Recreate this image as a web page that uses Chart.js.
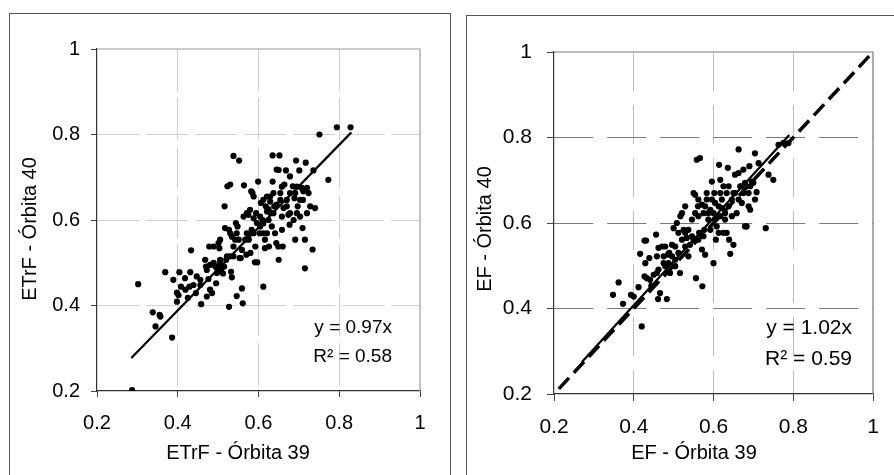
<!DOCTYPE html>
<html>
<head>
<meta charset="utf-8">
<script src="https://cdn.jsdelivr.net/npm/chart.js@4.4.0/dist/chart.umd.min.js"></script>
<style>
    body { margin: 0; background: #fff; width: 894px; height: 475px; overflow: hidden; position: relative; }
    .panel { position: absolute; border: 1px solid #555; box-sizing: border-box; }
    canvas { position: absolute; top: 0; }
</style>
</head>
<body>
<div class="panel" style="left:9px; top:13px; width:442px; height:480px;"></div>
<div class="panel" style="left:466px; top:15px; width:440px; height:480px;"></div>
<canvas id="leftChart" width="455" height="475" style="left:0"></canvas>
<canvas id="rightChart" width="439" height="475" style="left:455px"></canvas>
<script>
// eixos
const tickVals = [0.2, 0.4, 0.6, 0.8, 1];
const tickLabels = ['0.2', '0.4', '0.6', '0.8', '1'];

// ETrF - Órbita 39 (x) x Órbita 40 (y)
const etrfX = [0.287,0.302,0.338,0.345,0.355,0.357,0.369,0.386,0.389,0.398,0.402,0.404,0.408,0.418,0.433,0.431,0.429,0.439,0.425,0.445,
    0.456,0.458,0.468,0.47,0.476,0.478,0.48,0.485,0.489,0.493,0.495,0.489,0.501,0.505,0.503,0.507,0.512,0.516,0.517,0.52,
    0.522,0.523,0.53,0.527,0.527,0.53,0.534,0.532,0.534,0.538,0.544,0.548,0.546,0.552,0.553,0.556,0.559,0.561,0.564,0.567,
    0.57,0.571,0.575,0.576,0.58,0.582,0.585,0.588,0.591,0.594,0.597,0.599,0.603,0.606,0.61,0.612,0.612,0.616,0.618,0.621,
    0.625,0.626,0.63,0.633,0.635,0.635,0.652,0.639,0.644,0.645,0.65,0.65,0.654,0.658,0.66,0.664,0.668,0.67,0.674,0.677,
    0.685,0.689,0.691,0.693,0.697,0.701,0.709,0.711,0.715,0.715,0.717,0.72,0.724,0.734,0.736,0.74,0.751,0.773,0.794,0.828,
    0.579,0.588,0.596,0.604,0.612,0.621,0.629,0.637,0.645,0.658,0.662,0.67,0.678,0.687,0.703,0.707,0.472,0.48,0.497,0.505,
    0.538,0.542,0.551,0.559,0.575,0.583,0.592,0.612,0.616,0.625,0.629,0.641,0.649,0.654,0.678,0.691,0.695,0.703,0.711,0.72,
    0.728,0.505,0.515,0.53,0.538,0.546,0.563,0.571,0.588,0.604,0.621,0.637,0.658,0.678,0.695,0.71,0.497,0.456,0.447,0.419,
    0.398,0.472];
const etrfY = [0.202,0.45,0.384,0.351,0.378,0.374,0.478,0.325,0.46,0.43,0.424,0.478,0.444,0.464,0.529,0.478,0.444,0.448,0.418,0.429,
    0.448,0.403,0.507,0.491,0.462,0.538,0.437,0.429,0.5,0.491,0.452,0.538,0.546,0.554,0.534,0.483,0.475,0.632,0.581,0.507,
    0.515,0.679,0.683,0.397,0.577,0.569,0.561,0.479,0.466,0.75,0.593,0.585,0.422,0.739,0.511,0.511,0.44,0.405,0.681,0.554,
    0.519,0.616,0.612,0.554,0.523,0.667,0.663,0.569,0.501,0.616,0.501,0.69,0.569,0.64,0.6,0.444,0.592,0.554,0.632,0.62,
    0.625,0.538,0.616,0.585,0.69,0.751,0.751,0.632,0.546,0.718,0.717,0.507,0.647,0.577,0.538,0.683,0.716,0.632,0.612,0.589,
    0.679,0.651,0.554,0.739,0.632,0.716,0.581,0.667,0.554,0.487,0.734,0.675,0.663,0.531,0.716,0.628,0.8,0.694,0.817,0.817,
    0.624,0.604,0.593,0.585,0.647,0.655,0.643,0.616,0.636,0.608,0.628,0.647,0.616,0.6,0.608,0.675,0.483,0.495,0.487,0.507,
    0.515,0.554,0.554,0.53,0.565,0.577,0.538,0.569,0.534,0.6,0.655,0.569,0.538,0.663,0.663,0.663,0.616,0.647,0.671,0.616,
    0.632,0.499,0.491,0.515,0.538,0.569,0.608,0.569,0.655,0.608,0.569,0.663,0.678,0.702,0.678,0.647,0.476,0.46,0.468,0.437,
    0.409,0.421];
const etrfFit = [{x: 0.285, y: 0.277}, {x: 0.83, y: 0.805}];

// EF - Órbita 39 (x) x Órbita 40 (y)
const efX = [0.42,0.348,0.362,0.373,0.393,0.4,0.412,0.416,0.427,0.431,0.429,0.427,0.433,0.439,0.444,0.456,0.458,0.458,0.461,0.483,
    0.466,0.462,0.471,0.479,0.475,0.486,0.489,0.491,0.496,0.5,0.504,0.508,0.512,0.516,0.521,0.525,0.529,0.533,0.537,0.541,
    0.546,0.55,0.554,0.556,0.558,0.566,0.561,0.564,0.571,0.572,0.575,0.577,0.579,0.583,0.587,0.592,0.596,0.6,0.602,0.604,
    0.606,0.608,0.614,0.617,0.617,0.621,0.625,0.629,0.633,0.636,0.639,0.642,0.646,0.65,0.654,0.658,0.663,0.667,0.671,0.675,
    0.679,0.683,0.688,0.69,0.692,0.696,0.7,0.704,0.708,0.713,0.731,0.738,0.75,0.763,0.775,0.788,
    0.529,0.537,0.546,0.554,0.562,0.571,0.579,0.587,0.596,0.6,0.608,0.613,0.621,0.629,0.638,0.646,0.654,0.663,0.671,0.679,
    0.688,0.512,0.521,0.504,0.496,0.487,0.479,0.529,0.55,0.562,0.575,0.592,0.604,0.617,0.625,0.638,0.65,0.663,0.675,0.692,
    0.704,0.462,0.45,0.441,0.475,0.504,0.517,0.562,0.583,0.613,0.633];
const efY = [0.358,0.432,0.461,0.411,0.432,0.428,0.45,0.528,0.559,0.559,0.506,0.475,0.471,0.518,0.453,0.573,0.522,0.483,0.422,0.422,
    0.436,0.542,0.545,0.545,0.506,0.526,0.53,0.483,0.549,0.588,0.499,0.6,0.53,0.483,0.623,0.584,0.639,0.565,0.522,0.549,
    0.608,0.67,0.666,0.471,0.748,0.752,0.639,0.577,0.538,0.452,0.623,0.584,0.526,0.655,0.608,0.631,0.697,0.506,0.67,0.647,
    0.561,0.592,0.736,0.701,0.67,0.635,0.577,0.608,0.67,0.729,0.561,0.528,0.655,0.549,0.713,0.623,0.772,0.686,0.647,0.725,
    0.592,0.592,0.67,0.733,0.631,0.697,0.694,0.763,0.672,0.74,0.588,0.713,0.701,0.783,0.787,0.787,
    0.577,0.584,0.569,0.623,0.616,0.643,0.639,0.623,0.655,0.623,0.612,0.639,0.655,0.623,0.639,0.616,0.67,0.655,0.686,0.694,
    0.639,0.577,0.561,0.545,0.522,0.506,0.499,0.545,0.561,0.561,0.569,0.584,0.608,0.616,0.686,0.686,0.67,0.717,0.67,0.686,
    0.655,0.491,0.479,0.467,0.522,0.514,0.616,0.655,0.67,0.577,0.577];
const efFit = [{x: 0.27, y: 0.275}, {x: 0.79, y: 0.806}];
const oneToOne = [{x: 0.212, y: 0.212}, {x: 1, y: 1}];

function toPoints(xs, ys) {
    return xs.map((x, i) => ({x: x, y: ys[i]}));
}

function isEdge(v) {
    return Math.abs(v - 0.2) < 1e-6 || Math.abs(v - 1) < 1e-6;
}

// escala com ticks fixos e grade tracejada
function makeScale(opt) {
    return {
        type: 'linear',
        min: 0.2,
        max: 1,
        afterBuildTicks: (scale) => { scale.ticks = tickVals.map(v => ({value: v})); },
        afterFit: (scale) => {
            if (opt.width) scale.width = opt.width;
            if (opt.height) scale.height = opt.height;
        },
        ticks: {
            color: '#000',
            padding: opt.padding,
            font: {family: 'Liberation Sans, Arial', size: opt.size},
            callback: (v) => tickLabels[tickVals.findIndex(t => Math.abs(t - v) < 1e-6)]
        },
        grid: {
            color: (c) => (c.tick && isEdge(c.tick.value)) ? 'rgba(0,0,0,0)' : opt.gridColor,
            lineWidth: 1,
            tickColor: '#444',
            tickLength: opt.tickLength,
            tickBorderDash: []
        },
        border: {color: '#333', width: 1.2, dash: opt.dash}
    };
}

// moldura, títulos e equações
function decorPlugin(cfg) {
    return {
        id: 'decor',
        beforeDatasetsDraw(chart) {
            const a = chart.chartArea;
            const ctx = chart.ctx;
            ctx.save();
            ctx.strokeStyle = cfg.frameColor;
            ctx.lineWidth = 1.2;
            ctx.beginPath();
            ctx.moveTo(a.left, a.top);
            ctx.lineTo(a.right, a.top);
            ctx.lineTo(a.right, a.bottom);
            ctx.stroke();
            ctx.restore();
        },
        afterDraw(chart) {
            const ctx = chart.ctx;
            ctx.save();
            ctx.fillStyle = '#000';
            ctx.textAlign = 'center';
            ctx.textBaseline = 'middle';
            ctx.font = cfg.titleSize + 'px Liberation Sans, Arial';
            ctx.fillText(cfg.xTitle, cfg.xTitlePos[0], cfg.xTitlePos[1]);
            ctx.save();
            ctx.translate(cfg.yTitlePos[0], cfg.yTitlePos[1]);
            ctx.rotate(-Math.PI / 2);
            ctx.fillText(cfg.yTitle, 0, 0);
            ctx.restore();
            ctx.textAlign = 'right';
            ctx.font = cfg.eqSize + 'px Liberation Sans, Arial';
            ctx.fillText(cfg.eq[0], cfg.eqPos[0], cfg.eqPos[1]);
            ctx.fillText(cfg.eq[1], cfg.eqPos[0], cfg.eqPos[1] + cfg.eqGap);
            ctx.restore();
        }
    };
}

Chart.defaults.font.family = 'Liberation Sans, Arial';

// gráfico ETrF
new Chart(document.getElementById('leftChart'), {
    type: 'scatter',
    data: {
        datasets: [{
            data: toPoints(etrfX, etrfY),
            backgroundColor: '#000',
            borderWidth: 0,
            pointRadius: 3.1
        }, {
            type: 'line',
            data: etrfFit,
            borderColor: '#000',
            borderWidth: 2.2,
            pointRadius: 0,
            fill: false
        }]
    },
    options: {
        responsive: false,
        animation: false,
        devicePixelRatio: 1,
        layout: {padding: {left: 0, right: 35, top: 49, bottom: 0}},
        plugins: {legend: {display: false}, tooltip: {enabled: false}},
        scales: {
            x: makeScale({height: 84, padding: 14, size: 20, tickLength: 6, gridColor: '#cfcfcf', dash: [42, 7]}),
            y: makeScale({width: 97, padding: 11, size: 20, tickLength: 6, gridColor: '#cfcfcf', dash: [42, 7]})
        }
    },
    plugins: [decorPlugin({
        frameColor: '#999',
        xTitle: 'ETrF - Órbita 39', xTitlePos: [238, 453],
        yTitle: 'ETrF - Órbita 40', yTitlePos: [30, 229],
        titleSize: 20,
        eq: ['y = 0.97x', 'R² = 0.58'], eqPos: [392, 328], eqGap: 29, eqSize: 19
    })]
});

// gráfico EF
new Chart(document.getElementById('rightChart'), {
    type: 'scatter',
    data: {
        datasets: [{
            data: toPoints(efX, efY),
            backgroundColor: '#000',
            borderWidth: 0,
            pointRadius: 3.1
        }, {
            type: 'line',
            data: efFit,
            borderColor: '#000',
            borderWidth: 2.2,
            pointRadius: 0,
            fill: false
        }, {
            type: 'line',
            data: oneToOne,
            borderColor: '#000',
            borderWidth: 3.5,
            borderDash: [15, 7],
            pointRadius: 0,
            fill: false
        }]
    },
    options: {
        responsive: false,
        animation: false,
        devicePixelRatio: 1,
        layout: {padding: {left: 0, right: 21, top: 52, bottom: 0}},
        plugins: {legend: {display: false}, tooltip: {enabled: false}},
        scales: {
            x: makeScale({height: 81, padding: 14, size: 21, tickLength: 7, gridColor: '#bdbdbd', dash: [39, 14]}),
            y: makeScale({width: 99, padding: 15, size: 21, tickLength: 7, gridColor: '#7a7a7a', dash: [39, 14]})
        }
    },
    plugins: [decorPlugin({
        frameColor: '#777',
        xTitle: 'EF - Órbita 39', xTitlePos: [239, 453],
        yTitle: 'EF - Órbita 40', yTitlePos: [30, 229],
        titleSize: 20,
        eq: ['y = 1.02x', 'R² = 0.59'], eqPos: [397, 328], eqGap: 31, eqSize: 21
    })]
});
</script>
</body>
</html>
